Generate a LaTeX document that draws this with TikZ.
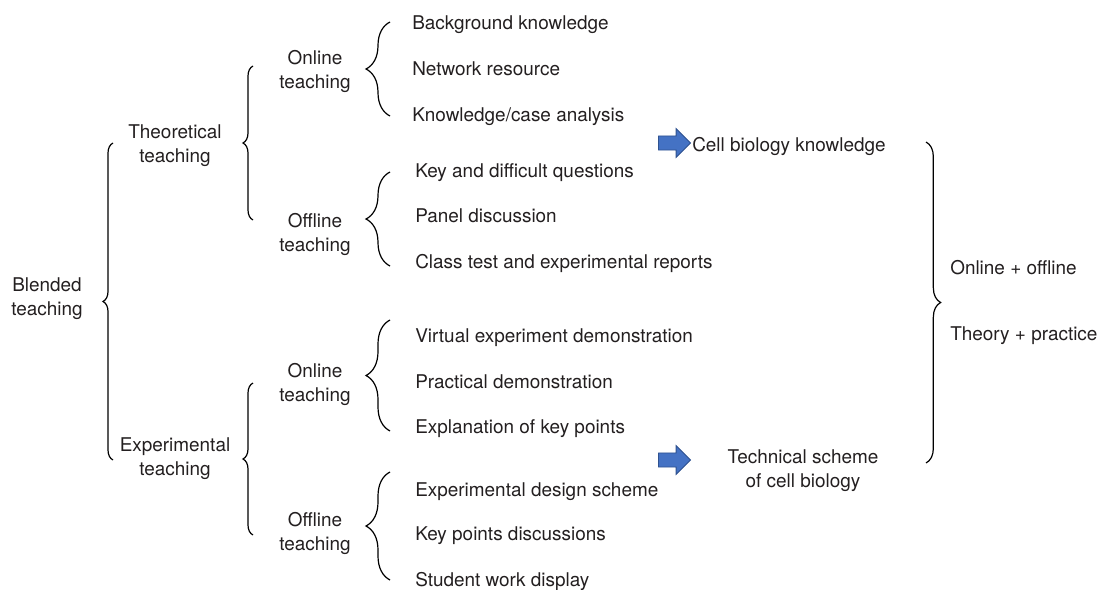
\documentclass[tikz,border=0pt]{standalone}
\usepackage{fontspec}
\setmainfont{TeX Gyre Heros}
\usetikzlibrary{decorations.pathreplacing,shapes.arrows}
\definecolor{arrowblue}{HTML}{4472C4}
\definecolor{arrowedge}{HTML}{2F528F}
\definecolor{txt}{HTML}{231F20}
\tikzset{
  lbl/.style={align=center, inner sep=0pt, text=txt},
  entry/.style={anchor=base west, inner sep=0pt, text=txt},
  brc/.style={decorate, decoration={brace, amplitude=#1}, line width=0.9pt},
  brc/.default=7.5pt,
  blockarrow/.style={single arrow, fill=arrowblue, draw=arrowedge, line width=0.6pt,
    minimum height=24pt, single arrow head extend=5.5pt, inner sep=5pt}
}
\begin{document}
\begin{tikzpicture}[x=0.75pt, y=-0.75pt, every node/.style={font=\fontsize{14.2}{18}\selectfont}]
  \useasboundingbox (0,0) rectangle (1099,589);
  % tree labels
  \node[lbl] (blended) at (47,299) {Blended\\teaching};
  \node[lbl] (theo) at (175,146) {Theoretical\\teaching};
  \node[lbl] (expt) at (175,459) {Experimental\\teaching};
  \node[lbl] (thon) at (315,71) {Online\\teaching};
  \node[lbl] (thoff) at (315,234) {Offline\\teaching};
  \node[lbl] (exon) at (315,384) {Online\\teaching};
  \node[lbl] (exoff) at (315,533) {Offline\\teaching};
  % leaves
  \foreach \n/\x/\y/\t in {bg/412/29/{Background knowledge}, net/412/75/{Network resource},
      kca/412/121/{Knowledge/case analysis}, kdq/415/177/{Key and difficult questions},
      pan/415/222/{Panel discussion}, ctr/415/268/{Class test and experimental reports},
      ved/415/342/{Virtual experiment demonstration}, prd/415/388/{Practical demonstration},
      ekp/415/433/{Explanation of key points}, eds/415/496/{Experimental design scheme},
      kpd/415/540/{Key points discussions}, swd/415/586/{Student work display}}
    \node[entry] (\n) at (\x,\y) {\t};
  % braces
  \foreach \b/\x/\ya/\yb/\a in {b0/113/460/143/7.5pt, b1/253/220/66/7.5pt, b2/253/535/383/7.5pt,
      b3/390/116/22/18pt, b4/390/266/172/18pt, b5/390/431/320/18pt, b6/390/580/472/18pt,
      b7/926/142/463/11pt}
    \draw[brc=\a] (\x,\ya) coordinate (\b-a) -- (\x,\yb) coordinate (\b-b);
  % outcomes
  \node[blockarrow] (arrA) at (671,143) {};
  \node[lbl, anchor=west] (cbk) at (692,146) {Cell biology knowledge};
  \node[blockarrow] (arrB) at (671,460) {};
  \node[lbl] (tsc) at (803,471) {Technical scheme\\of cell biology};
  \node[entry] (onoff) at (950,274) {Online + offline};
  \node[entry] (thpr) at (950,340) {Theory + practice};
\end{tikzpicture}
\end{document}
